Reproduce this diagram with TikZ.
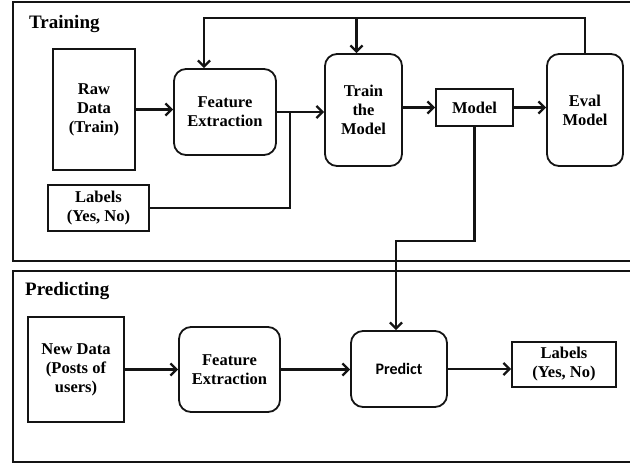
\documentclass[tikz,border=0pt]{standalone}
\usepackage{fontspec}
\setmainfont{Liberation Serif}
\newfontfamily\predictfont{Carlito}
\usetikzlibrary{arrows.meta}
\definecolor{myline}{RGB}{20,20,20}

\begin{document}
\begin{tikzpicture}[x=1pt,y=-1pt,
    box/.style={draw=myline,line width=1.8pt,align=center,inner sep=2pt,
      font=\bfseries\fontsize{16.5}{19}\selectfont},
    rbox/.style={box,rounded corners=12pt},
    title/.style={anchor=west,inner sep=0pt,font=\bfseries\fontsize{19}{23}\selectfont},
    frame/.style={draw=myline,line width=1.6pt},
    conn/.style={draw=myline,line width=2.3pt},
    arr/.style={conn,-{Straight Barb[length=6pt,width=12pt,line width=2.3pt]}}]
    \useasboundingbox (0,0) rectangle (630,464);
    \clip (0,0) rectangle (630,464);

    % training part
    \draw[frame] (13,2) rectangle (645,261);
    \node[title] (traintitle) at (29,24) {Training};

    \node[box,minimum width=82pt,minimum height=121pt] (rawdata)
      at (94,109.5) {Raw\\Data\\(Train)};
    \node[rbox,minimum width=102pt,minimum height=86pt] (feat)
      at (225,112) {Feature\\Extraction};
    \node[box,minimum width=101pt,minimum height=46pt] (labels)
      at (98.5,208) {Labels\\(Yes, No)};
    \node[rbox,minimum width=77pt,minimum height=112pt] (train)
      at (363.5,110) {Train\\the\\Model};
    \node[box,minimum width=77pt,minimum height=37pt] (model)
      at (474.5,107.5) {Model};
    \node[rbox,minimum width=76pt,minimum height=112pt] (eval)
      at (585,110) {Eval\\Model};

    \coordinate (join) at (290,112);
    \coordinate (back) at ([yshift=35pt]eval.north);

    \draw[arr] (rawdata.east) -- (rawdata.east -| feat.west);
    \draw[arr] (feat.east) -- (feat.east -| train.west);
    \draw[conn] (labels.east) -| (join);
    \draw[arr] (train.east |- model.west) -- (model.west);
    \draw[arr] (model.east) -- (model.east -| eval.west);
    \draw[arr] (eval.north) -- (back) -| ([xshift=-21pt]feat.north);
    \draw[arr] ([xshift=-7pt]train.north |- back) -- ([xshift=-7pt]train.north);

    % predicting part
    \draw[frame] (13,271) rectangle (645,462);
    \node[title] (predtitle) at (25,291) {Predicting};

    \node[box,minimum width=96pt,minimum height=105pt] (newdata)
      at (76,369.5) {New Data\\(Posts of\\users)};
    \node[rbox,minimum width=101pt,minimum height=85pt] (feat2)
      at (229.5,369.5) {Feature\\Extraction};
    \node[rbox,minimum width=96pt,minimum height=76pt,
      font=\predictfont\bfseries\fontsize{16}{19}\selectfont] (predict)
      at (399,369) {Predict};
    \node[box,minimum width=104pt,minimum height=45pt] (labels2)
      at (564,364.5) {Labels\\(Yes, No)};

    \draw[arr] (newdata.east) -- (feat2.west);
    \draw[arr] (feat2.east) -- (feat2.east -| predict.west);
    \draw[arr] (predict.east) -- (predict.east -| labels2.west);
    \draw[arr] (model.south) -- ++(0,114) -| ([xshift=-3pt]predict.north);
\end{tikzpicture}
\end{document}
